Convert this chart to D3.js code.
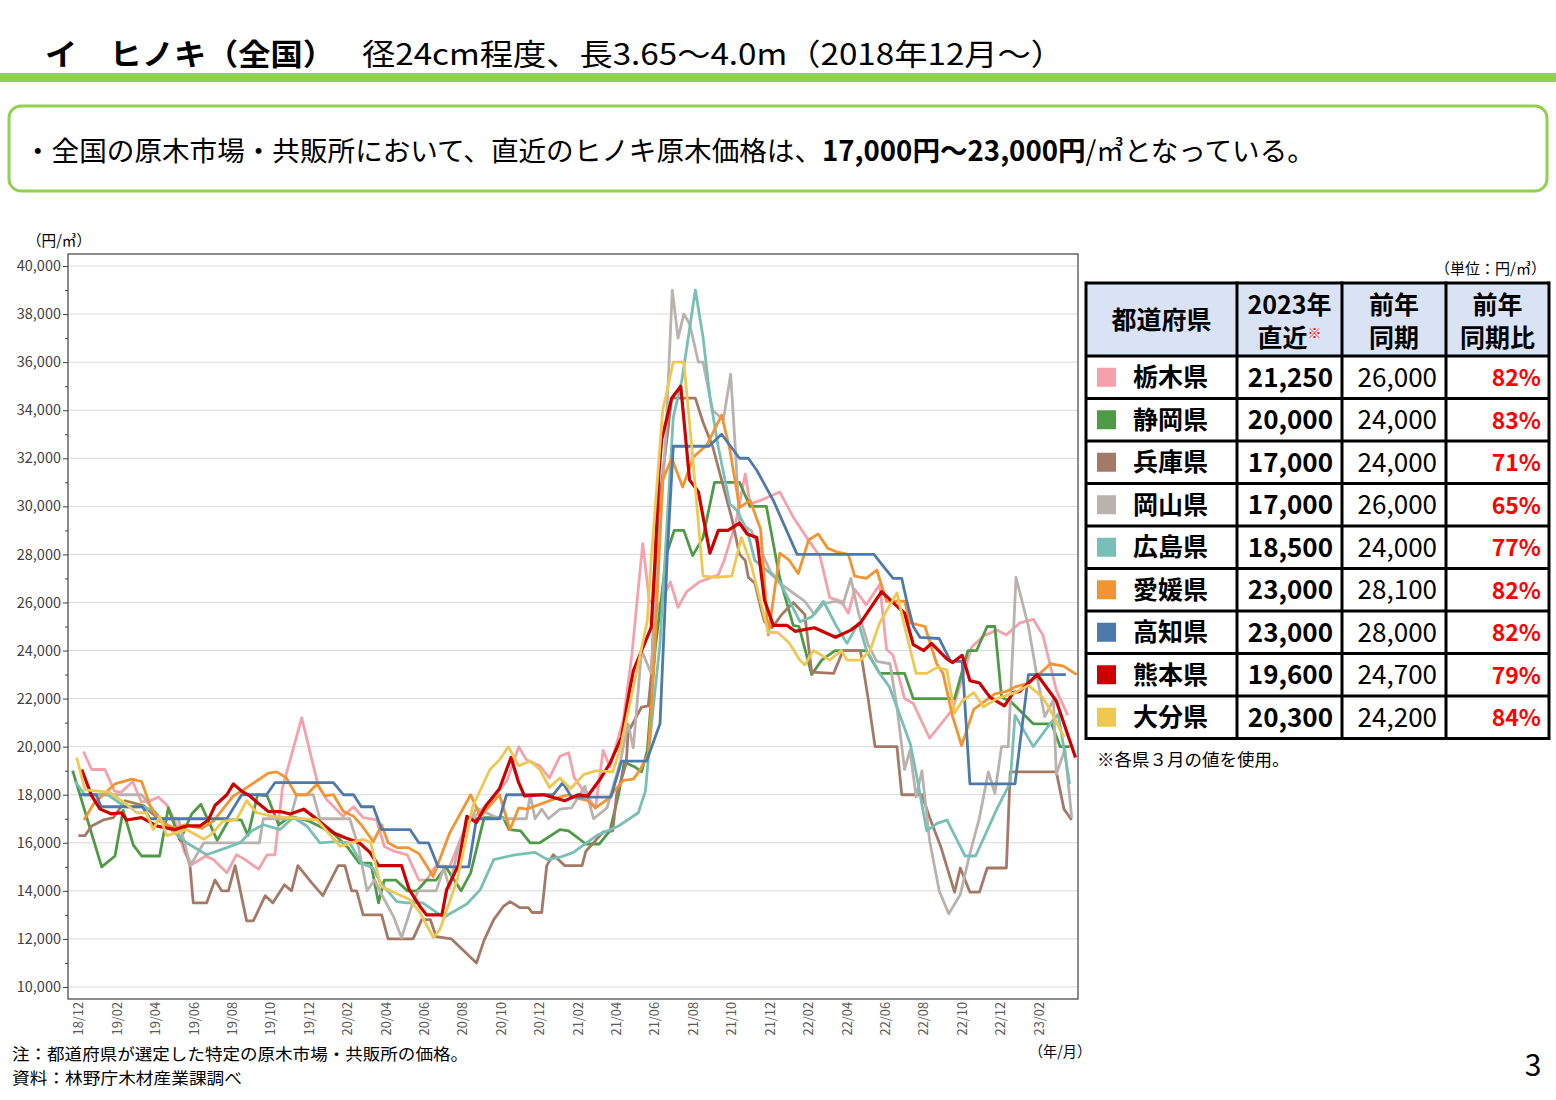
<!DOCTYPE html>
<html><head><meta charset="utf-8">
<script src="https://cdn.jsdelivr.net/npm/d3@7"></script>
<style>
body{margin:0;background:#fff;}
svg text{font-family:"Noto Sans CJK JP","Noto Sans",sans-serif;}
</style></head><body>
<svg id="c" width="1556" height="1100"></svg>
<script>
// ---------------- DATA ----------------
// x = months since 2018/12 (0 = 18/12, 2 = 19/02 ...), value = 円/㎥
const prefectures = ["栃木県","静岡県","兵庫県","岡山県","広島県","愛媛県","高知県","熊本県","大分県"];
const latest2023 = [21250,20000,17000,17000,18500,23000,23000,19600,20300];
const prevYear   = [26000,24000,24000,26000,24000,28100,28000,24700,24200];
const ratioPct   = [82,83,71,65,77,82,82,79,84];
const seriesColors = ["#f5a1ac","#4e9a45","#a47a66","#bab2ae","#78bfb6","#f39433","#4e7aab","#cc0000","#efc852"];

const xTickLabels = ["18/12","19/02","19/04","19/06","19/08","19/10","19/12","20/02","20/04","20/06","20/08","20/10","20/12",
  "21/02","21/04","21/06","21/08","21/10","21/12","22/02","22/04","22/06","22/08","22/10","22/12","23/02"];
const yTicks = [10000,12000,14000,16000,18000,20000,22000,24000,26000,28000,30000,32000,34000,36000,38000,40000];
const yMinorTicks = [11000,13000,15000,17000,19000,21000,23000,25000,27000,29000,31000,33000,35000,37000,39000];

const tochigi = [[0.23,19800],[0.66,19050],[1.35,19050],[1.85,18150],[2.2,18100],[2.8,18550],[3.25,17700],[3.7,17750],[4.15,17900],[4.6,17550],[5.0,16900],[5.5,15600],[5.9,15100],[6.6,15450],[7.0,15300],[7.7,14750],[8.2,15500],[8.65,15300],[9.35,14900],[9.8,15500],[10.2,15500],[10.6,18300],[11.6,21200],[12.45,18400],[12.9,17800],[13.75,17100],[14.3,17500],[14.8,17050],[15.5,16950],[15.9,15850],[16.4,15650],[17.1,15500],[17.7,14450],[18.1,14450],[18.6,15050],[19.3,15000],[20.2,16800],[20.9,17300],[21.6,17900],[22.3,18600],[22.9,20000],[23.3,19450],[24.0,19200],[24.5,18700],[25.05,19600],[25.5,19750],[25.8,18700],[26.9,17450],[27.3,19850],[27.65,19150],[28.35,21100],[28.8,23850],[29.1,26350],[29.36,28450],[29.7,26100],[30.1,25700],[30.8,26850],[31.2,25800],[31.65,26450],[32.3,26850],[33.3,27150],[33.6,27750],[34.2,29300],[34.7,31350],[34.95,30100],[35.5,30250],[36.5,30600],[37.2,29550],[37.9,28700],[38.6,27900],[39.1,26200],[39.7,26050],[40.07,25550],[40.4,26550],[41.0,25900],[41.7,26750],[42.06,24050],[42.4,23800],[43.0,22000],[43.45,21800],[44.3,20350],[45.5,21550],[46.5,24150],[47.1,24600],[47.8,24850],[48.3,24650],[49.0,25150],[49.7,25300],[50.2,24650],[50.9,22350],[51.5,21300]];
const shizuoka = [[-0.33,19000],[1.18,15000],[1.875,15450],[2.3,17350],[2.83,15900],[3.26,15450],[4.2,15450],[4.65,17450],[5.26,16100],[5.87,17200],[6.35,17600],[7.2,16100],[7.8,16950],[8.45,16950],[8.8,16300],[9.3,18000],[9.8,17950],[10.4,16750],[11.0,17100],[12.0,16900],[13.25,16400],[14.0,15800],[14.6,15150],[15.2,15150],[15.6,13500],[15.9,14450],[16.5,14450],[17.1,14000],[17.6,14000],[18.1,14450],[18.6,14450],[19.1,15000],[19.9,14000],[20.4,14750],[21.1,17050],[22.1,17050],[22.4,16550],[23.0,16500],[23.5,16000],[24.0,16000],[25.05,16550],[25.5,16500],[26.4,15950],[27.1,15950],[27.65,16500],[28.1,18000],[28.4,19350],[28.96,19150],[29.3,18950],[29.6,19850],[30.0,24000],[30.6,28000],[31.0,29000],[31.5,29000],[31.96,27950],[32.5,28700],[33.1,31000],[34.4,31000],[34.95,30000],[35.8,30000],[36.5,27000],[37.2,25050],[37.5,25000],[38.16,23000],[38.68,23600],[39.37,24000],[41.0,24000],[41.7,23050],[43.0,23050],[43.45,22000],[45.6,22000],[46.3,24000],[46.75,24000],[47.3,25000],[47.7,25000],[48.05,22050],[48.5,21900],[49.7,20950],[50.66,20950],[51.1,20000],[51.6,20000]];
const hyogo = [[-0.03,16300],[0.31,16300],[0.66,16700],[1.27,16950],[1.8,17050],[2.4,17750],[3.35,17550],[4.2,16950],[4.9,16550],[5.43,16000],[5.78,15050],[5.95,13500],[6.65,13500],[7.08,14450],[7.43,14000],[7.78,14000],[8.13,15050],[8.73,12750],[9.08,12750],[9.7,13800],[10.1,13500],[10.7,14250],[11.07,14000],[11.4,15050],[12.1,14350],[12.7,13800],[13.5,15050],[13.85,15050],[14.2,14000],[14.46,14000],[14.8,13000],[15.76,13000],[16.1,12000],[17.4,12000],[17.85,12800],[18.3,12800],[18.6,12100],[19.4,12000],[20.7,11000],[21.1,11950],[21.6,12800],[22.1,13350],[22.45,13550],[22.97,13300],[23.4,13300],[23.6,13100],[24.1,13100],[24.36,15050],[24.7,15500],[25.3,15050],[26.2,15050],[26.4,15650],[27.3,16450],[27.8,16500],[28.0,18000],[28.5,19300],[28.6,20600],[29.3,21650],[29.65,21700],[29.8,22900],[30.2,30000],[30.87,34500],[32.1,34500],[32.5,33500],[33.0,32500],[33.5,31000],[34.0,29500],[34.4,28000],[34.7,27750],[34.86,27050],[35.2,26800],[35.5,25800],[35.7,25200],[36.1,24950],[36.6,25500],[37.2,26000],[37.8,25500],[38.16,23100],[39.3,23050],[39.8,24000],[40.7,24000],[41.1,22000],[41.46,20000],[42.6,20000],[42.85,18000],[43.9,18000],[44.3,17050],[44.9,15800],[45.6,13950],[45.9,14950],[46.4,13950],[46.9,13950],[47.3,14950],[48.3,14950],[48.5,18950],[50.9,18950],[51.3,17400],[51.7,16950]];
const okayama = [[0.3,18000],[3.27,18000],[4.2,17000],[5.17,17000],[5.8,15050],[6.5,16000],[9.4,16000],[9.6,17000],[11.0,17000],[11.34,18000],[12.2,18000],[12.55,17000],[14.1,17000],[14.55,15850],[15.0,14000],[15.4,14450],[15.76,13850],[16.37,12950],[16.8,12050],[17.4,13550],[17.67,14000],[18.6,14000],[19.0,14950],[19.3,14100],[19.8,16000],[20.7,17450],[21.6,17100],[22.1,17000],[23.3,17000],[23.5,18000],[23.75,17000],[24.1,17400],[24.45,17000],[25.05,17400],[25.65,17450],[26.35,18350],[26.8,17000],[27.5,17450],[28.2,19400],[28.6,20950],[28.87,19950],[29.3,24000],[29.8,23050],[30.57,33050],[30.9,39000],[31.2,37000],[31.5,38000],[31.8,37600],[32.26,36000],[32.5,36000],[33.0,34000],[33.56,33600],[33.94,35500],[34.2,32200],[34.4,29300],[35.0,29000],[35.5,28200],[36.0,27300],[36.5,26800],[37.8,26050],[38.3,25500],[38.77,25950],[39.4,26050],[39.8,25950],[40.2,27000],[40.6,25550],[41.1,24250],[41.55,23550],[42.24,23450],[42.6,21650],[43.0,19050],[43.28,19850],[43.6,17900],[43.9,19000],[44.3,16100],[44.8,14000],[45.3,13050],[45.9,13850],[46.4,15550],[46.9,17050],[47.36,18950],[47.7,18050],[48.05,20000],[48.4,20000],[48.8,27050],[49.45,25000],[49.9,22900],[50.3,21250],[50.75,21950],[50.9,18850],[51.35,19900],[51.7,17050]];
const hiroshima = [[-0.2,18550],[0.3,18000],[1.5,18000],[2.4,17500],[3.35,17500],[3.96,17300],[4.57,16700],[5.6,16000],[6.65,15500],[7.7,15800],[8.4,16000],[9.0,16500],[9.6,16750],[10.47,16550],[11.16,17050],[11.86,16700],[12.55,16000],[13.4,16050],[14.1,16000],[14.7,15150],[15.3,14950],[15.7,14350],[16.55,13550],[17.07,13500],[17.9,13500],[18.45,13200],[19.0,12900],[20.2,13450],[20.9,14050],[21.6,15300],[22.7,15500],[23.75,15600],[24.4,15300],[25.05,15400],[25.75,15600],[26.96,16300],[28.1,16700],[29.13,17250],[29.5,18150],[29.8,20800],[30.26,24300],[30.95,33700],[31.4,35250],[32.1,39000],[32.5,37050],[32.86,34550],[33.3,32450],[33.9,30100],[34.25,29850],[34.8,29000],[35.2,27750],[35.8,27350],[36.5,26850],[37.55,25200],[38.16,25400],[38.77,26050],[39.46,25000],[40.0,24300],[40.6,25150],[41.0,24050],[41.7,23050],[42.2,22500],[42.76,21300],[43.3,20100],[43.6,18900],[44.15,16500],[44.67,16800],[45.2,16950],[46.15,15450],[46.7,15450],[47.8,17400],[48.5,18500],[48.75,21300],[49.7,20000],[50.57,20950],[51.0,21350],[51.6,18450]];
const ehime = [[0.26,16950],[0.75,17600],[1.27,18000],[1.875,18450],[2.74,18650],[3.26,18550],[3.7,17550],[4.2,16900],[5.0,16600],[5.5,16750],[6.4,16600],[7.0,16900],[8.04,17950],[8.56,18200],[9.86,18900],[10.3,18950],[10.8,18700],[11.3,18000],[11.86,18000],[12.4,18450],[12.8,17950],[13.25,18000],[13.77,17300],[14.3,17100],[14.7,16750],[15.33,16050],[15.76,16750],[16.1,16000],[16.55,15800],[17.15,15800],[17.7,15550],[18.1,15050],[18.45,14600],[19.3,16400],[20.4,18000],[20.9,17100],[21.9,18000],[22.45,16550],[22.9,17450],[23.3,17400],[24.0,17600],[24.5,17750],[25.05,17900],[25.5,18000],[26.0,17850],[26.5,17750],[26.9,17450],[27.5,17800],[28.35,18600],[28.87,18650],[29.2,19000],[29.65,19700],[29.8,21500],[30.0,24300],[30.4,31100],[30.87,32000],[31.44,30800],[32.0,32050],[32.7,32550],[33.47,33800],[33.9,32350],[34.4,29950],[34.95,30250],[35.5,29050],[35.9,24650],[36.5,28050],[37.0,27750],[37.46,27200],[38.0,28600],[38.5,28850],[39.0,28250],[39.5,28100],[40.07,28000],[40.4,27100],[41.0,27000],[41.55,27350],[42.06,26050],[43.0,26050],[43.28,25150],[44.06,25000],[44.67,23450],[45.0,23050],[45.5,21250],[45.97,20050],[46.6,21550],[47.27,21950],[47.7,22200],[48.3,22300],[48.8,22500],[49.5,22650],[50.05,23050],[50.6,23450],[51.27,23350],[51.96,23000]];
const kochi = [[0.05,18000],[0.9,18000],[1.15,17500],[3.3,17500],[3.7,17000],[7.7,17000],[8.47,18000],[9.77,18000],[10.2,18500],[13.25,18500],[13.77,18000],[14.3,18000],[14.7,17500],[15.33,17500],[15.76,16550],[17.24,16550],[17.7,16000],[18.2,16000],[18.7,15000],[20.3,15000],[20.7,17000],[21.9,17000],[22.27,18000],[24.7,18000],[25.2,18500],[25.65,17900],[27.7,17900],[28.26,19400],[29.56,19400],[30.26,20950],[30.64,28000],[30.95,32500],[32.8,32500],[33.47,33000],[34.4,32000],[34.86,32000],[35.3,31500],[36.16,30250],[37.4,28000],[41.4,28000],[42.0,27400],[42.4,27000],[42.85,27000],[43.1,26100],[43.45,25000],[43.8,24550],[44.8,24500],[45.4,23550],[46.0,23550],[46.4,18450],[48.75,18450],[49.45,23000],[51.4,23000]];
const kumamoto = [[0.14,19050],[0.66,17950],[1.1,17400],[1.7,17200],[2.2,17250],[2.48,16950],[3.26,17050],[4.05,16700],[5.0,16550],[5.6,16700],[6.3,16700],[6.74,16950],[7.08,17550],[7.7,18000],[8.04,18450],[8.47,18150],[8.9,17950],[9.4,17600],[9.86,17300],[10.47,17300],[11.0,17200],[11.7,17400],[12.2,17100],[12.9,16650],[13.3,16400],[13.9,16200],[14.6,16000],[15.15,15600],[15.6,15050],[16.8,15050],[17.2,14050],[17.76,13350],[18.1,13000],[18.9,13000],[19.15,14050],[19.75,15050],[20.2,17100],[20.7,16850],[21.2,17550],[21.9,18250],[22.5,19550],[22.9,18500],[23.2,17950],[24.2,18000],[25.3,17750],[26.0,18000],[26.5,17950],[27.1,18600],[27.65,19300],[28.26,20400],[28.7,22450],[28.87,23150],[29.3,24000],[29.8,24950],[30.0,27750],[30.2,31350],[30.35,32800],[30.87,34500],[31.34,35000],[31.8,31100],[32.26,30600],[32.86,28050],[33.3,29000],[33.8,29000],[34.4,29300],[34.8,28850],[35.3,28700],[35.7,26100],[36.16,25050],[36.86,25050],[37.3,24800],[38.3,24950],[39.4,24550],[40.2,24850],[40.7,25150],[41.8,26450],[42.6,25850],[43.0,25550],[43.45,24250],[44.0,24000],[44.4,24300],[45.2,23650],[45.5,23500],[46.0,23800],[46.4,22750],[46.9,22650],[47.45,22050],[48.2,21700],[48.66,22250],[49.0,22300],[49.9,23000],[50.9,21900],[51.9,19550]];
const oita = [[-0.12,19550],[0.31,18200],[1.6,18100],[2.48,17600],[3.0,17250],[3.5,17250],[3.87,16550],[4.2,17100],[4.57,16300],[5.6,16550],[6.5,16150],[6.9,16350],[7.5,16900],[8.2,16950],[8.73,17750],[9.25,17250],[10.1,17100],[12.4,16950],[13.6,15850],[14.8,16150],[15.2,16000],[15.7,14200],[16.5,13900],[17.2,13650],[17.76,13100],[18.45,12050],[18.8,12400],[19.15,13200],[19.7,14450],[20.5,17500],[21.4,19050],[21.9,19450],[22.36,20000],[22.9,19200],[23.5,19400],[24.0,19050],[24.5,18300],[25.05,18700],[25.6,18250],[26.3,18850],[26.96,19000],[27.8,18950],[28.2,19950],[29.05,23150],[29.6,25250],[29.8,27750],[30.4,34000],[30.95,36000],[31.5,36000],[31.9,32600],[32.5,27100],[33.2,27050],[34.0,27100],[34.5,28700],[35.0,27600],[35.9,24750],[36.4,24750],[37.0,24300],[37.5,23650],[37.8,23400],[38.25,24000],[39.1,23600],[39.7,24000],[40.0,23600],[40.7,23600],[41.2,24000],[41.7,25150],[42.6,26400],[43.0,25000],[43.6,23050],[44.15,23050],[44.7,23300],[45.2,23200],[45.6,21400],[46.0,21900],[46.6,22250],[47.1,21650],[47.8,22000],[48.75,22250],[49.45,22550],[50.2,22050],[50.7,21350],[51.3,20400]];
const seriesList = [tochigi, shizuoka, hyogo, okayama, hiroshima, ehime, kochi, kumamoto, oita];

// ---------------- DRAW ----------------
const svg = d3.select("#c");

// Header
svg.append("text").attr("x",45).attr("y",65).attr("font-size",30).attr("font-weight","bold")
  .attr("textLength",290).attr("lengthAdjust","spacingAndGlyphs").text("イ　ヒノキ（全国）");
svg.append("text").attr("x",362).attr("y",65).attr("font-size",30)
  .attr("textLength",702).attr("lengthAdjust","spacingAndGlyphs").text("径24cm程度、長3.65～4.0m（2018年12月～）");
svg.append("rect").attr("x",0).attr("y",73).attr("width",1556).attr("height",9).attr("fill","#92d050");
svg.append("rect").attr("x",9).attr("y",106).attr("width",1538).attr("height",85).attr("rx",12)
  .attr("fill","#fff").attr("stroke","#92d050").attr("stroke-width",3);
const lead = svg.append("text").attr("x",24).attr("y",161).attr("font-size",27.6);
lead.append("tspan").text("・全国の原木市場・共販所において、直近のヒノキ原木価格は、");
lead.append("tspan").attr("font-weight","bold").text("17,000円～23,000円");
lead.append("tspan").text("/㎥となっている。");

// Chart
const L=68, R=1078, T=254, B=999;
const x = d3.scaleLinear().domain([-0.573, 52.03]).range([L, R]);
const y = d3.scaleLinear().domain([9500, 40500]).range([B, T]);

svg.append("g").selectAll("line").data(yTicks).join("line")
  .attr("x1",L).attr("x2",R).attr("y1",d=>y(d)).attr("y2",d=>y(d))
  .attr("stroke","#d9d9d9").attr("stroke-width",1);

const yAxis = svg.append("g").attr("transform",`translate(${L},0)`)
  .call(d3.axisLeft(y).tickValues(yTicks).tickFormat(d3.format(",")).tickSize(5).tickPadding(2));
yAxis.select(".domain").remove();
yAxis.selectAll("line").attr("stroke","#404040");
yAxis.selectAll("text").attr("font-family","DejaVu Sans").attr("font-size",14.5).attr("fill","#404040");
const yMinor = svg.append("g").attr("transform",`translate(${L},0)`)
  .call(d3.axisLeft(y).tickValues(yMinorTicks).tickFormat("").tickSize(3));
yMinor.select(".domain").remove();
yMinor.selectAll("line").attr("stroke","#404040");

svg.append("text").attr("x",27).attr("y",246).attr("font-size",15)
  .attr("textLength",64).attr("lengthAdjust","spacingAndGlyphs").text("（円/㎥）");

// x labels
svg.append("g").selectAll("text").data(xTickLabels).join("text")
  .attr("transform",(d,i)=>`translate(${x(i*2)},1002) rotate(-90)`)
  .attr("text-anchor","end").attr("dy","0.35em")
  .attr("font-family","DejaVu Sans").attr("font-size",12.8).attr("fill","#595959")
  .text(d=>d);

// lines
const line = d3.line().x(d=>x(d[0])).y(d=>y(d[1]));
svg.append("g").selectAll("path").data(seriesList).join("path")
  .attr("d",line).attr("fill","none")
  .attr("stroke",(d,i)=>seriesColors[i])
  .attr("stroke-width",(d,i)=>i===7?3.2:2.8)
  .attr("stroke-linejoin","round");

// frame
svg.append("rect").attr("x",L).attr("y",T).attr("width",R-L).attr("height",B-T)
  .attr("fill","none").attr("stroke","#404040").attr("stroke-width",1.2);

svg.append("text").attr("x",1029).attr("y",1057).attr("font-size",15)
  .attr("textLength",62).attr("lengthAdjust","spacingAndGlyphs").text("（年/月）");
svg.append("text").attr("x",12).attr("y",1060).attr("font-size",16.4)
  .attr("textLength",456).attr("lengthAdjust","spacingAndGlyphs").text("注：都道府県が選定した特定の原木市場・共販所の価格。");
svg.append("text").attr("x",12).attr("y",1084).attr("font-size",16.4)
  .attr("textLength",230).attr("lengthAdjust","spacingAndGlyphs").text("資料：林野庁木材産業課調べ");
svg.append("text").attr("x",1533).attr("y",1076).attr("font-size",30).attr("text-anchor","middle").text("3");

// Table
const tx = [1086, 1237, 1342, 1446, 1549];
const hdrTop = 283, hdrBot = 356, rowH = 42.5;
const tb = svg.append("g");
tb.append("text").attr("x",1546).attr("y",274).attr("font-size",15).attr("text-anchor","end").text("（単位：円/㎥）");
tb.append("rect").attr("x",tx[0]).attr("y",hdrTop).attr("width",tx[4]-tx[0]).attr("height",hdrBot-hdrTop).attr("fill","#dae3f3");
const hdr = (cx, lines) => {
  lines.forEach((ln,k)=>{
    const t = tb.append("text").attr("x",cx).attr("y",lines.length===1?329:(k===0?314:347))
      .attr("font-size",25).attr("font-weight","bold").attr("text-anchor","middle");
    if (Array.isArray(ln)) {
      t.append("tspan").text(ln[0]);
      t.append("tspan").attr("fill","#ff0000").attr("font-size",14).attr("dy",-9).text(ln[1]);
    } else t.text(ln);
  });
};
hdr((tx[0]+tx[1])/2, ["都道府県"]);
hdr((tx[1]+tx[2])/2, ["2023年", ["直近","※"]]);
hdr((tx[2]+tx[3])/2, ["前年","同期"]);
hdr((tx[3]+tx[4])/2, ["前年","同期比"]);

const rows = tb.selectAll("g.row").data(prefectures).join("g").attr("class","row")
  .attr("transform",(d,i)=>`translate(0,${hdrBot+i*rowH})`);
rows.append("rect").attr("x",1097).attr("y",rowH/2-9.5).attr("width",19).attr("height",19)
  .attr("fill",(d,i)=>seriesColors[i]);
rows.append("text").attr("x",1133).attr("y",rowH/2+9).attr("font-size",25).attr("font-weight","bold").text(d=>d);
rows.append("text").attr("x",1333).attr("y",rowH/2+9.5).attr("font-size",26).attr("font-weight","bold")
  .attr("text-anchor","end").text((d,i)=>d3.format(",")(latest2023[i]));
rows.append("text").attr("x",1437).attr("y",rowH/2+9.5).attr("font-size",26)
  .attr("text-anchor","end").text((d,i)=>d3.format(",")(prevYear[i]));
rows.append("text").attr("x",1541).attr("y",rowH/2+9).attr("font-size",23).attr("font-weight","bold")
  .attr("fill","#ff0000").attr("text-anchor","end").text((d,i)=>ratioPct[i]+"%");

// grid lines of table
const nRows = prefectures.length;
const tBot = hdrBot + nRows*rowH;
const hLines = [hdrTop, hdrBot].concat(d3.range(1,nRows+1).map(i=>hdrBot+i*rowH));
tb.selectAll("line.h").data(hLines).join("line").attr("class","h")
  .attr("x1",tx[0]).attr("x2",tx[4]).attr("y1",d=>d).attr("y2",d=>d)
  .attr("stroke","#000").attr("stroke-width",3);
tb.selectAll("line.v").data(tx).join("line").attr("class","v")
  .attr("x1",d=>d).attr("x2",d=>d).attr("y1",hdrTop-1.5).attr("y2",tBot+1.5)
  .attr("stroke","#000").attr("stroke-width",3);
tb.append("text").attr("x",1097).attr("y",766).attr("font-size",17.5).text("※各県３月の値を使用。");
</script>
</body></html>
